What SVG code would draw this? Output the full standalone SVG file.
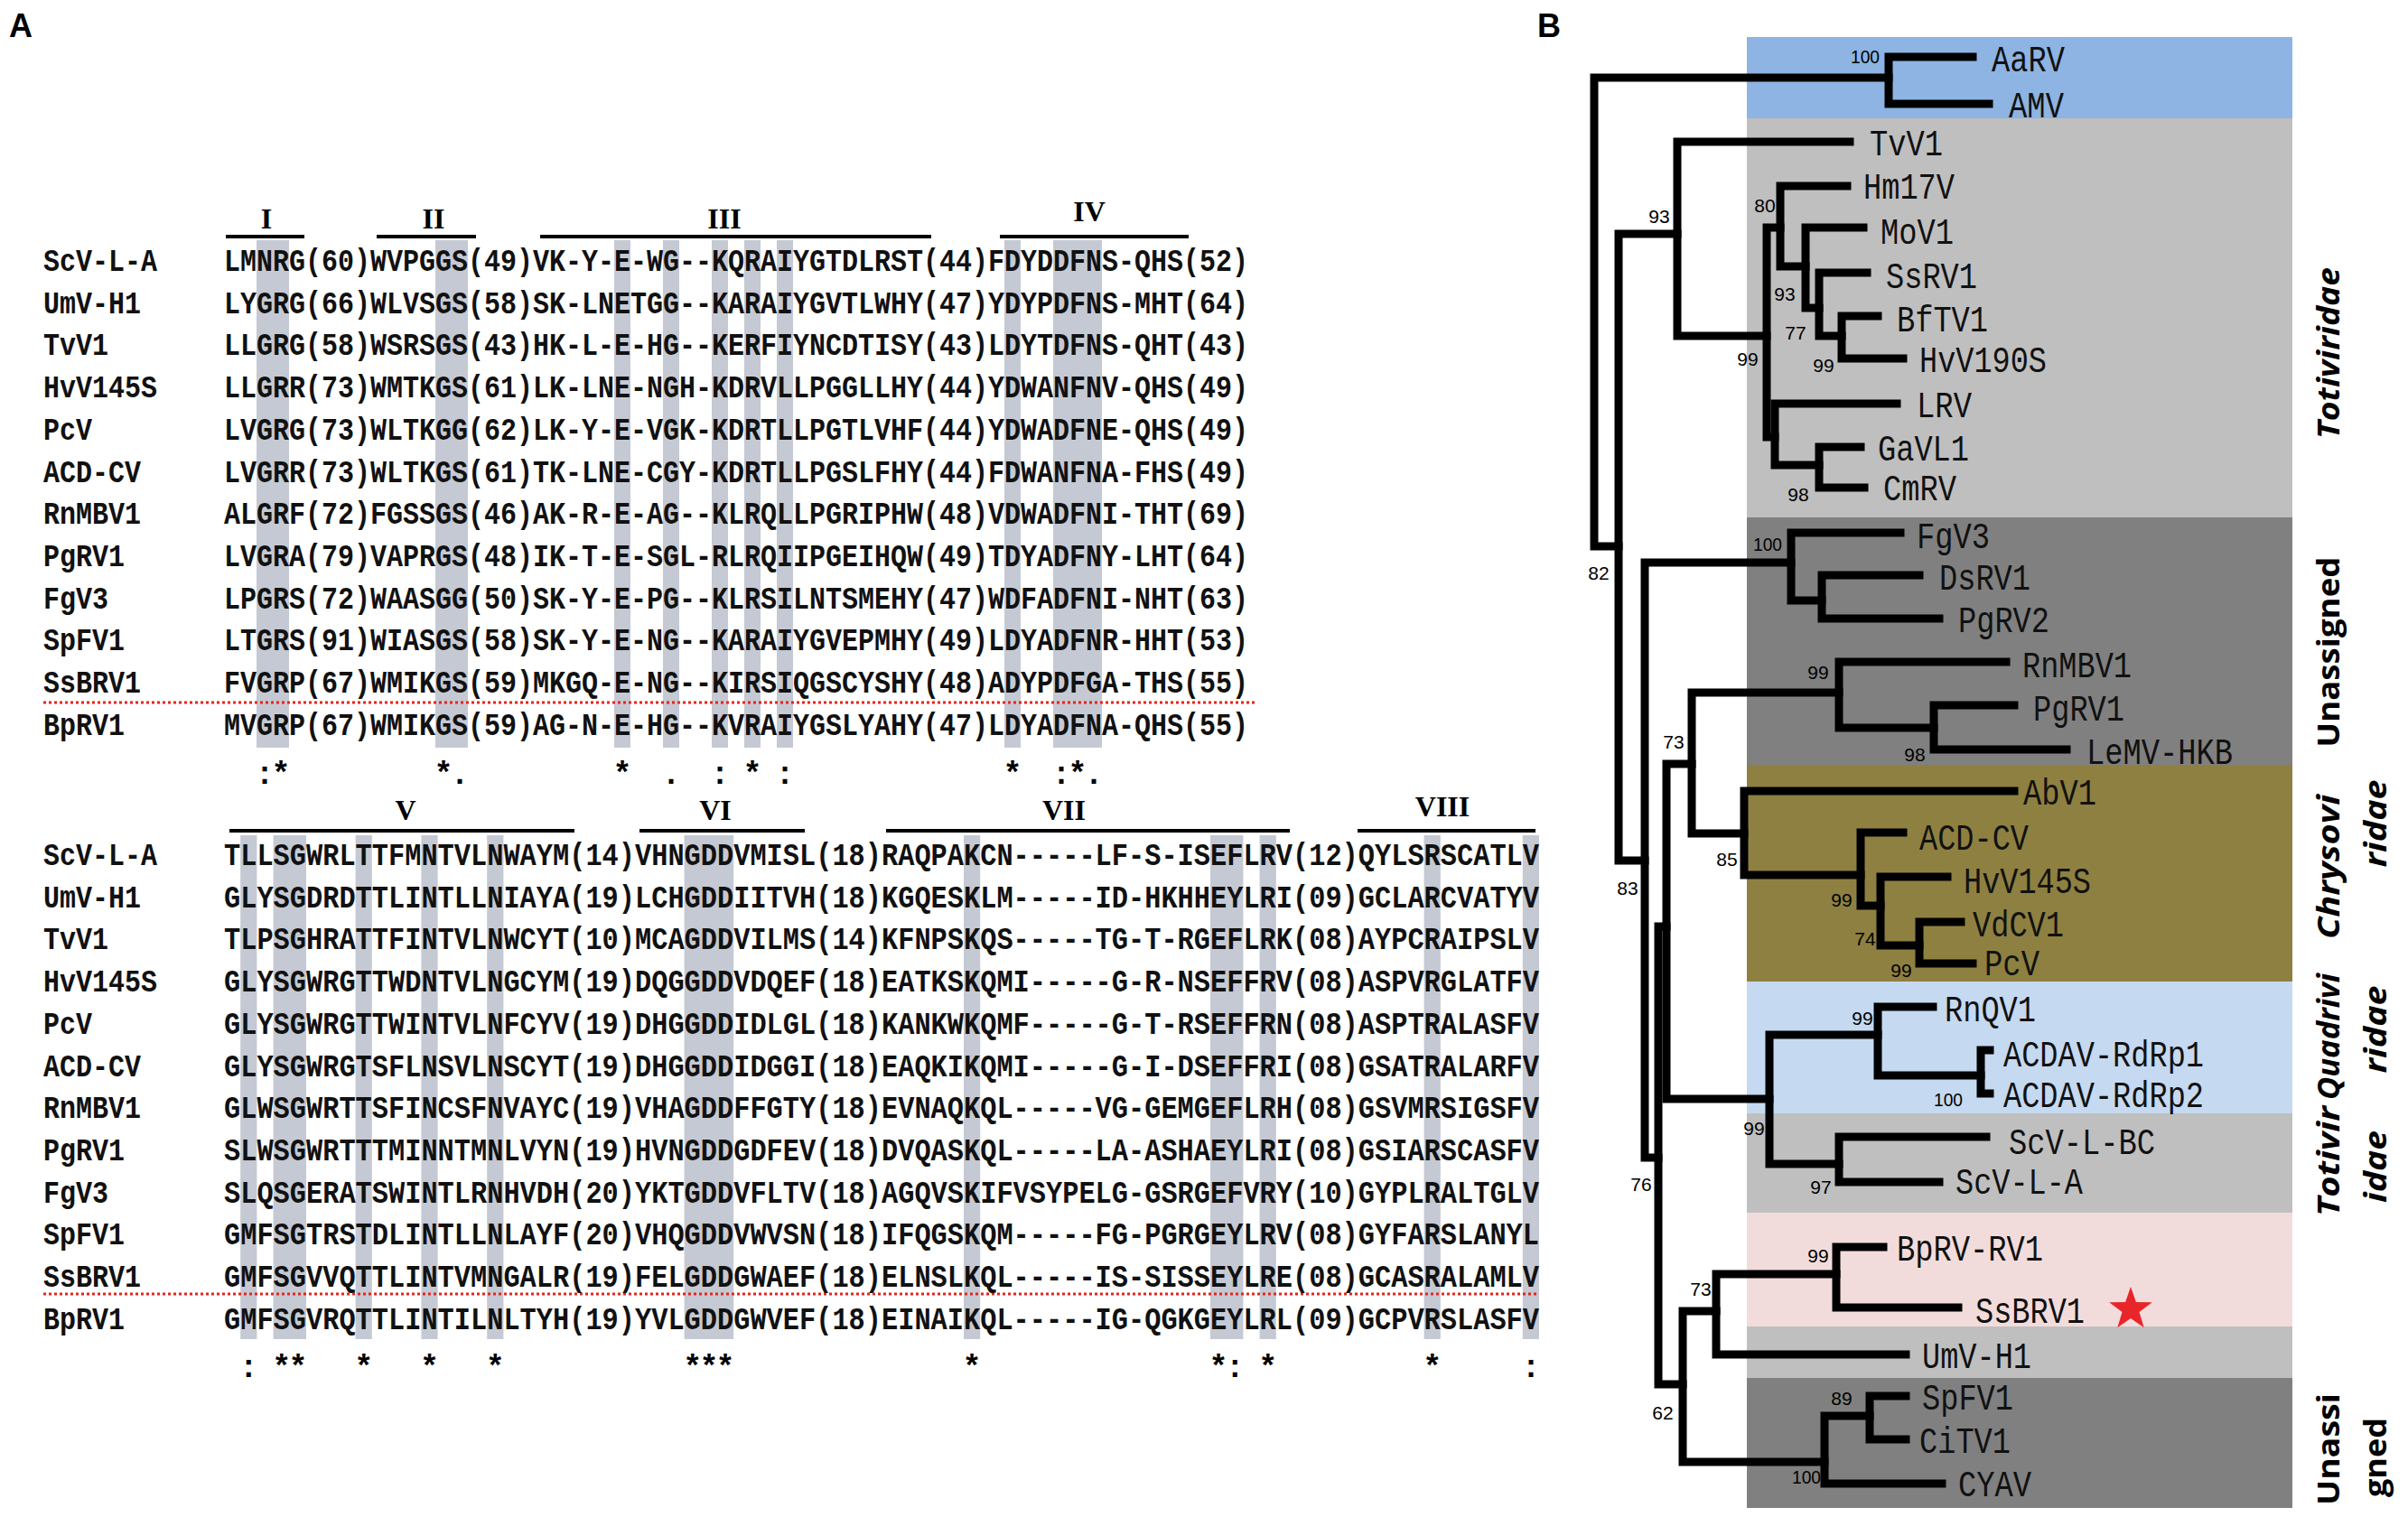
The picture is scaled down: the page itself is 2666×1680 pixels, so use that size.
<svg xmlns="http://www.w3.org/2000/svg" width="2666" height="1680" viewBox="0 0 2666 1680">
<style>
.pl{font-family:"Liberation Sans",Arial,sans-serif;font-weight:bold;font-size:36px}
.nm,.sq{font-family:"Liberation Mono","Courier New",monospace;font-size:35px;font-weight:bold;fill:#111}
.cs{font-family:"Liberation Mono","Courier New",monospace;font-size:35px;font-weight:bold;text-anchor:middle}
.rn{font-family:"Liberation Serif","Times New Roman",serif;font-size:32px;font-weight:bold;text-anchor:middle}
.bar{stroke:#000;stroke-width:4}
.shade{fill:#c5c9d3}
.dot{stroke:#e3261e;stroke-width:3;stroke-dasharray:3 3;fill:none}
.leaf{font-family:"Liberation Mono","Courier New",monospace;font-size:40px;fill:#111}
.bs{font-family:"Liberation Sans",Arial,sans-serif;font-size:21px;text-anchor:middle}
.br{fill:none;stroke:#000;stroke-width:9;stroke-linecap:square;stroke-linejoin:miter}
.grp{font-family:"Open Sans","Liberation Sans",sans-serif;font-size:34px;font-weight:bold;text-anchor:middle}
.it{font-style:italic}
</style>
<rect width="2666" height="1680" fill="#fff"/>
<text class="pl" x="10" y="41">A</text>
<text class="pl" x="1702" y="41">B</text>

<g id="alignment-block-1">
  <g id="shading-1">
    <rect class="shade" x="284" y="266" width="36" height="562"/>
    <rect class="shade" x="482" y="266" width="36" height="562"/>
    <rect class="shade" x="680" y="266" width="18" height="562"/>
    <rect class="shade" x="734" y="266" width="18" height="562"/>
    <rect class="shade" x="788" y="266" width="18" height="562"/>
    <rect class="shade" x="824" y="266" width="18" height="562"/>
    <rect class="shade" x="860" y="266" width="18" height="562"/>
    <rect class="shade" x="1112" y="266" width="18" height="562"/>
    <rect class="shade" x="1166" y="266" width="54" height="562"/>
  </g>
  <g id="motifs-1">
    <line class="bar" x1="250" y1="262" x2="337" y2="262"/>
    <line class="bar" x1="417" y1="262" x2="527" y2="262"/>
    <line class="bar" x1="598" y1="262" x2="1031" y2="262"/>
    <line class="bar" x1="1107" y1="262" x2="1316" y2="262"/>
    <text class="rn" x="295" y="253">I</text>
    <text class="rn" x="480" y="253">II</text>
    <text class="rn" x="802" y="253">III</text>
    <text class="rn" x="1206" y="245">IV</text>
  </g>
  <line class="dot" x1="48" y1="778" x2="1390" y2="778"/>
  <g id="names-1">
    <text class="nm" x="48" y="300" textLength="126" lengthAdjust="spacingAndGlyphs">ScV-L-A</text>
    <text class="nm" x="48" y="346.7" textLength="108" lengthAdjust="spacingAndGlyphs">UmV-H1</text>
    <text class="nm" x="48" y="393.4" textLength="72" lengthAdjust="spacingAndGlyphs">TvV1</text>
    <text class="nm" x="48" y="440.1" textLength="126" lengthAdjust="spacingAndGlyphs">HvV145S</text>
    <text class="nm" x="48" y="486.8" textLength="54" lengthAdjust="spacingAndGlyphs">PcV</text>
    <text class="nm" x="48" y="533.5" textLength="108" lengthAdjust="spacingAndGlyphs">ACD-CV</text>
    <text class="nm" x="48" y="580.2" textLength="108" lengthAdjust="spacingAndGlyphs">RnMBV1</text>
    <text class="nm" x="48" y="626.9" textLength="90" lengthAdjust="spacingAndGlyphs">PgRV1</text>
    <text class="nm" x="48" y="673.6" textLength="72" lengthAdjust="spacingAndGlyphs">FgV3</text>
    <text class="nm" x="48" y="720.3" textLength="90" lengthAdjust="spacingAndGlyphs">SpFV1</text>
    <text class="nm" x="48" y="767" textLength="108" lengthAdjust="spacingAndGlyphs">SsBRV1</text>
    <text class="nm" x="48" y="813.7" textLength="90" lengthAdjust="spacingAndGlyphs">BpRV1</text>
  </g>
  <g id="seqs-1">
    <text class="sq" x="248" y="300" textLength="1134" lengthAdjust="spacingAndGlyphs">LMNRG(60)WVPGGS(49)VK-Y-E-WG--KQRAIYGTDLRST(44)FDYDDFNS-QHS(52)</text>
    <text class="sq" x="248" y="346.7" textLength="1134" lengthAdjust="spacingAndGlyphs">LYGRG(66)WLVSGS(58)SK-LNETGG--KARAIYGVTLWHY(47)YDYPDFNS-MHT(64)</text>
    <text class="sq" x="248" y="393.4" textLength="1134" lengthAdjust="spacingAndGlyphs">LLGRG(58)WSRSGS(43)HK-L-E-HG--KERFIYNCDTISY(43)LDYTDFNS-QHT(43)</text>
    <text class="sq" x="248" y="440.1" textLength="1134" lengthAdjust="spacingAndGlyphs">LLGRR(73)WMTKGS(61)LK-LNE-NGH-KDRVLLPGGLLHY(44)YDWANFNV-QHS(49)</text>
    <text class="sq" x="248" y="486.8" textLength="1134" lengthAdjust="spacingAndGlyphs">LVGRG(73)WLTKGG(62)LK-Y-E-VGK-KDRTLLPGTLVHF(44)YDWADFNE-QHS(49)</text>
    <text class="sq" x="248" y="533.5" textLength="1134" lengthAdjust="spacingAndGlyphs">LVGRR(73)WLTKGS(61)TK-LNE-CGY-KDRTLLPGSLFHY(44)FDWANFNA-FHS(49)</text>
    <text class="sq" x="248" y="580.2" textLength="1134" lengthAdjust="spacingAndGlyphs">ALGRF(72)FGSSGS(46)AK-R-E-AG--KLRQLLPGRIPHW(48)VDWADFNI-THT(69)</text>
    <text class="sq" x="248" y="626.9" textLength="1134" lengthAdjust="spacingAndGlyphs">LVGRA(79)VAPRGS(48)IK-T-E-SGL-RLRQIIPGEIHQW(49)TDYADFNY-LHT(64)</text>
    <text class="sq" x="248" y="673.6" textLength="1134" lengthAdjust="spacingAndGlyphs">LPGRS(72)WAASGG(50)SK-Y-E-PG--KLRSILNTSMEHY(47)WDFADFNI-NHT(63)</text>
    <text class="sq" x="248" y="720.3" textLength="1134" lengthAdjust="spacingAndGlyphs">LTGRS(91)WIASGS(58)SK-Y-E-NG--KARAIYGVEPMHY(49)LDYADFNR-HHT(53)</text>
    <text class="sq" x="248" y="767" textLength="1134" lengthAdjust="spacingAndGlyphs">FVGRP(67)WMIKGS(59)MKGQ-E-NG--KIRSIQGSCYSHY(48)ADYPDFGA-THS(55)</text>
    <text class="sq" x="248" y="813.7" textLength="1134" lengthAdjust="spacingAndGlyphs">MVGRP(67)WMIKGS(59)AG-N-E-HG--KVRAIYGSLYAHY(47)LDYADFNA-QHS(55)</text>
  </g>
  <g id="conservation-1">
    <text class="cs" x="293" y="868">:</text><text class="cs" x="311" y="868">*</text>
    <text class="cs" x="491" y="868">*</text><text class="cs" x="509" y="868">.</text>
    <text class="cs" x="689" y="868">*</text><text class="cs" x="743" y="868">.</text>
    <text class="cs" x="797" y="868">:</text><text class="cs" x="833" y="868">*</text>
    <text class="cs" x="869" y="868">:</text><text class="cs" x="1121" y="868">*</text>
    <text class="cs" x="1175" y="868">:</text><text class="cs" x="1193" y="868">*</text><text class="cs" x="1211" y="868">.</text>
  </g>
</g>

<g id="alignment-block-2">
  <g id="shading-2">
    <rect class="shade" x="266.2" y="925" width="18.2" height="558"/>
    <rect class="shade" x="302.6" y="925" width="36.4" height="558"/>
    <rect class="shade" x="393.6" y="925" width="18.2" height="558"/>
    <rect class="shade" x="466.4" y="925" width="18.2" height="558"/>
    <rect class="shade" x="539.2" y="925" width="18.2" height="558"/>
    <rect class="shade" x="757.6" y="925" width="54.6" height="558"/>
    <rect class="shade" x="1067" y="925" width="18.2" height="558"/>
    <rect class="shade" x="1340" y="925" width="36.4" height="558"/>
    <rect class="shade" x="1394.6" y="925" width="18.2" height="558"/>
    <rect class="shade" x="1576.6" y="925" width="18.2" height="558"/>
    <rect class="shade" x="1685.8" y="925" width="18.2" height="558"/>
  </g>
  <g id="motifs-2">
    <line class="bar" x1="254" y1="920" x2="636" y2="920"/>
    <line class="bar" x1="708" y1="920" x2="891" y2="920"/>
    <line class="bar" x1="981" y1="920" x2="1428" y2="920"/>
    <line class="bar" x1="1503" y1="920" x2="1700" y2="920"/>
    <text class="rn" x="449" y="908">V</text>
    <text class="rn" x="792" y="908">VI</text>
    <text class="rn" x="1178" y="908">VII</text>
    <text class="rn" x="1597" y="904">VIII</text>
  </g>
  <line class="dot" x1="48" y1="1433" x2="1704" y2="1433"/>
  <g id="names-2">
    <text class="nm" x="48" y="958" textLength="126" lengthAdjust="spacingAndGlyphs">ScV-L-A</text>
    <text class="nm" x="48" y="1004.7" textLength="108" lengthAdjust="spacingAndGlyphs">UmV-H1</text>
    <text class="nm" x="48" y="1051.4" textLength="72" lengthAdjust="spacingAndGlyphs">TvV1</text>
    <text class="nm" x="48" y="1098.1" textLength="126" lengthAdjust="spacingAndGlyphs">HvV145S</text>
    <text class="nm" x="48" y="1144.8" textLength="54" lengthAdjust="spacingAndGlyphs">PcV</text>
    <text class="nm" x="48" y="1191.5" textLength="108" lengthAdjust="spacingAndGlyphs">ACD-CV</text>
    <text class="nm" x="48" y="1238.2" textLength="108" lengthAdjust="spacingAndGlyphs">RnMBV1</text>
    <text class="nm" x="48" y="1284.9" textLength="90" lengthAdjust="spacingAndGlyphs">PgRV1</text>
    <text class="nm" x="48" y="1331.6" textLength="72" lengthAdjust="spacingAndGlyphs">FgV3</text>
    <text class="nm" x="48" y="1378.3" textLength="90" lengthAdjust="spacingAndGlyphs">SpFV1</text>
    <text class="nm" x="48" y="1425" textLength="108" lengthAdjust="spacingAndGlyphs">SsBRV1</text>
    <text class="nm" x="48" y="1471.7" textLength="90" lengthAdjust="spacingAndGlyphs">BpRV1</text>
  </g>
  <g id="seqs-2">
    <text class="sq" x="248" y="958" textLength="1456" lengthAdjust="spacingAndGlyphs">TLLSGWRLTTFMNTVLNWAYM(14)VHNGDDVMISL(18)RAQPAKCN-----LF-S-ISEFLRV(12)QYLSRSCATLV</text>
    <text class="sq" x="248" y="1004.7" textLength="1456" lengthAdjust="spacingAndGlyphs">GLYSGDRDTTLINTLLNIAYA(19)LCHGDDIITVH(18)KGQESKLM-----ID-HKHHEYLRI(09)GCLARCVATYV</text>
    <text class="sq" x="248" y="1051.4" textLength="1456" lengthAdjust="spacingAndGlyphs">TLPSGHRATTFINTVLNWCYT(10)MCAGDDVILMS(14)KFNPSKQS-----TG-T-RGEFLRK(08)AYPCRAIPSLV</text>
    <text class="sq" x="248" y="1098.1" textLength="1456" lengthAdjust="spacingAndGlyphs">GLYSGWRGTTWDNTVLNGCYM(19)DQGGDDVDQEF(18)EATKSKQMI-----G-R-NSEFFRV(08)ASPVRGLATFV</text>
    <text class="sq" x="248" y="1144.8" textLength="1456" lengthAdjust="spacingAndGlyphs">GLYSGWRGTTWINTVLNFCYV(19)DHGGDDIDLGL(18)KANKWKQMF-----G-T-RSEFFRN(08)ASPTRALASFV</text>
    <text class="sq" x="248" y="1191.5" textLength="1456" lengthAdjust="spacingAndGlyphs">GLYSGWRGTSFLNSVLNSCYT(19)DHGGDDIDGGI(18)EAQKIKQMI-----G-I-DSEFFRI(08)GSATRALARFV</text>
    <text class="sq" x="248" y="1238.2" textLength="1456" lengthAdjust="spacingAndGlyphs">GLWSGWRTTSFINCSFNVAYC(19)VHAGDDFFGTY(18)EVNAQKQL-----VG-GEMGEFLRH(08)GSVMRSIGSFV</text>
    <text class="sq" x="248" y="1284.9" textLength="1456" lengthAdjust="spacingAndGlyphs">SLWSGWRTTTMINNTMNLVYN(19)HVNGDDGDFEV(18)DVQASKQL-----LA-ASHAEYLRI(08)GSIARSCASFV</text>
    <text class="sq" x="248" y="1331.6" textLength="1456" lengthAdjust="spacingAndGlyphs">SLQSGERATSWINTLRNHVDH(20)YKTGDDVFLTV(18)AGQVSKIFVSYPELG-GSRGEFVRY(10)GYPLRALTGLV</text>
    <text class="sq" x="248" y="1378.3" textLength="1456" lengthAdjust="spacingAndGlyphs">GMFSGTRSTDLINTLLNLAYF(20)VHQGDDVWVSN(18)IFQGSKQM-----FG-PGRGEYLRV(08)GYFARSLANYL</text>
    <text class="sq" x="248" y="1425" textLength="1456" lengthAdjust="spacingAndGlyphs">GMFSGVVQTTLINTVMNGALR(19)FELGDDGWAEF(18)ELNSLKQL-----IS-SISSEYLRE(08)GCASRALAMLV</text>
    <text class="sq" x="248" y="1471.7" textLength="1456" lengthAdjust="spacingAndGlyphs">GMFSGVRQTTLINTILNLTYH(19)YVLGDDGWVEF(18)EINAIKQL-----IG-QGKGEYLRL(09)GCPVRSLASFV</text>
  </g>
  <g id="conservation-2">
    <text class="cs" x="275.3" y="1525">:</text><text class="cs" x="311.7" y="1525">*</text><text class="cs" x="329.9" y="1525">*</text>
    <text class="cs" x="402.7" y="1525">*</text><text class="cs" x="475.5" y="1525">*</text><text class="cs" x="548.3" y="1525">*</text>
    <text class="cs" x="766.7" y="1525">*</text><text class="cs" x="784.9" y="1525">*</text><text class="cs" x="803.1" y="1525">*</text>
    <text class="cs" x="1076.1" y="1525">*</text>
    <text class="cs" x="1349.1" y="1525">*</text><text class="cs" x="1367.3" y="1525">:</text><text class="cs" x="1403.7" y="1525">*</text>
    <text class="cs" x="1585.7" y="1525">*</text><text class="cs" x="1694.9" y="1525">:</text>
  </g>
</g>

<g id="clade-bands">
  <rect x="1934" y="41" width="604" height="90" fill="#8db4e2"/>
  <rect x="1934" y="131" width="604" height="442" fill="#bfbfbf"/>
  <rect x="1934" y="573" width="604" height="274" fill="#808080"/>
  <rect x="1934" y="847" width="604" height="240" fill="#8e8040"/>
  <rect x="1934" y="1087" width="604" height="146" fill="#c5d9f1"/>
  <rect x="1934" y="1233" width="604" height="110" fill="#bfbfbf"/>
  <rect x="1934" y="1343" width="604" height="126" fill="#f2dcdb"/>
  <rect x="1934" y="1469" width="604" height="57" fill="#bfbfbf"/>
  <rect x="1934" y="1526" width="604" height="144" fill="#808080"/>
</g>

<g id="tree-connectors">
  <path class="br" d="M2091,86 H1765 V605 H1792"/>
  <path class="br" d="M2184,63 H2091 V115 H2202"/>
  <path class="br" d="M1857,259 H1792 V953 H1821"/>
  <path class="br" d="M2048,157 H1857 V372 H1956"/>
  <path class="br" d="M1971,252 H1956 V484 H1965"/>
  <path class="br" d="M2045,206 H1971 V295 H1999"/>
  <path class="br" d="M2063,252 H1999 V341 H2014"/>
  <path class="br" d="M2067,302 H2014 V372 H2039"/>
  <path class="br" d="M2079,350 H2039 V397 H2107"/>
  <path class="br" d="M2100,447 H1965 V515 H2014"/>
  <path class="br" d="M2060,495 H2014 V540 H2064"/>
  <path class="br" d="M1983,623 H1821 V1282 H1836"/>
  <path class="br" d="M2104,590 H1983 V665 H2017"/>
  <path class="br" d="M2125,637 H2017 V685 H2147"/>
  <path class="br" d="M1845,1026 H1836 V1533 H1863"/>
  <path class="br" d="M1873,846 H1845 V1217 H1959"/>
  <path class="br" d="M2036,767 H1873 V923 H1931"/>
  <path class="br" d="M2221,733 H2036 V806 H2141"/>
  <path class="br" d="M2230,781 H2141 V830 H2288"/>
  <path class="br" d="M2230,876 H1931 V969 H2060"/>
  <path class="br" d="M2107,922 H2060 V1003 H2082"/>
  <path class="br" d="M2156,971 H2082 V1047 H2125"/>
  <path class="br" d="M2171,1021 H2125 V1067 H2184"/>
  <path class="br" d="M2079,1146 H1959 V1289 H2036"/>
  <path class="br" d="M2140,1115 H2079 V1191 H2193"/>
  <path class="br" d="M2203,1163 H2193 V1211 H2203"/>
  <path class="br" d="M2199,1259 H2036 V1309 H2147"/>
  <path class="br" d="M1900,1452 H1863 V1619 H2020"/>
  <path class="br" d="M2033,1411 H1900 V1500 H2110"/>
  <path class="br" d="M2085,1381 H2033 V1448 H2168"/>
  <path class="br" d="M2070,1568 H2020 V1643 H2150"/>
  <path class="br" d="M2110,1546 H2070 V1594 H2110"/>
</g>

<g id="bootstrap">
  <text class="bs" x="2065" y="70" textLength="32" lengthAdjust="spacingAndGlyphs">100</text>
  <text class="bs" x="1837" y="247">93</text>
  <text class="bs" x="1954" y="235">80</text>
  <text class="bs" x="1976" y="333">93</text>
  <text class="bs" x="1988" y="376">77</text>
  <text class="bs" x="1935" y="405">99</text>
  <text class="bs" x="2019" y="412">99</text>
  <text class="bs" x="1991" y="555">98</text>
  <text class="bs" x="1770" y="642">82</text>
  <text class="bs" x="1957" y="610" textLength="32" lengthAdjust="spacingAndGlyphs">100</text>
  <text class="bs" x="2013" y="752">99</text>
  <text class="bs" x="2120" y="843">98</text>
  <text class="bs" x="1853" y="829">73</text>
  <text class="bs" x="1912" y="959">85</text>
  <text class="bs" x="2039" y="1004">99</text>
  <text class="bs" x="2065" y="1047">74</text>
  <text class="bs" x="2105" y="1082">99</text>
  <text class="bs" x="1802" y="991">83</text>
  <text class="bs" x="2062" y="1135">99</text>
  <text class="bs" x="2157" y="1225" textLength="32" lengthAdjust="spacingAndGlyphs">100</text>
  <text class="bs" x="1942" y="1257">99</text>
  <text class="bs" x="2016" y="1322">97</text>
  <text class="bs" x="1817" y="1319">76</text>
  <text class="bs" x="2013" y="1398">99</text>
  <text class="bs" x="1883" y="1435">73</text>
  <text class="bs" x="1841" y="1572">62</text>
  <text class="bs" x="2039" y="1556">89</text>
  <text class="bs" x="2000" y="1643" textLength="32" lengthAdjust="spacingAndGlyphs">100</text>
</g>

<g id="leaves">
  <text class="leaf" x="2205" y="79" textLength="81" lengthAdjust="spacingAndGlyphs">AaRV</text>
  <text class="leaf" x="2224" y="130" textLength="61" lengthAdjust="spacingAndGlyphs">AMV</text>
  <text class="leaf" x="2070" y="172" textLength="81" lengthAdjust="spacingAndGlyphs">TvV1</text>
  <text class="leaf" x="2063" y="220" textLength="101" lengthAdjust="spacingAndGlyphs">Hm17V</text>
  <text class="leaf" x="2082" y="270" textLength="81" lengthAdjust="spacingAndGlyphs">MoV1</text>
  <text class="leaf" x="2088" y="319" textLength="101" lengthAdjust="spacingAndGlyphs">SsRV1</text>
  <text class="leaf" x="2100" y="367" textLength="101" lengthAdjust="spacingAndGlyphs">BfTV1</text>
  <text class="leaf" x="2125" y="412" textLength="141" lengthAdjust="spacingAndGlyphs">HvV190S</text>
  <text class="leaf" x="2122" y="462" textLength="61" lengthAdjust="spacingAndGlyphs">LRV</text>
  <text class="leaf" x="2079" y="510" textLength="101" lengthAdjust="spacingAndGlyphs">GaVL1</text>
  <text class="leaf" x="2085" y="554" textLength="81" lengthAdjust="spacingAndGlyphs">CmRV</text>
  <text class="leaf" x="2122" y="607" textLength="81" lengthAdjust="spacingAndGlyphs">FgV3</text>
  <text class="leaf" x="2147" y="653" textLength="101" lengthAdjust="spacingAndGlyphs">DsRV1</text>
  <text class="leaf" x="2168" y="700" textLength="101" lengthAdjust="spacingAndGlyphs">PgRV2</text>
  <text class="leaf" x="2239" y="750" textLength="121" lengthAdjust="spacingAndGlyphs">RnMBV1</text>
  <text class="leaf" x="2251" y="798" textLength="101" lengthAdjust="spacingAndGlyphs">PgRV1</text>
  <text class="leaf" x="2310" y="846" textLength="162" lengthAdjust="spacingAndGlyphs">LeMV-HKB</text>
  <text class="leaf" x="2240" y="891" textLength="81" lengthAdjust="spacingAndGlyphs">AbV1</text>
  <text class="leaf" x="2125" y="941" textLength="121" lengthAdjust="spacingAndGlyphs">ACD-CV</text>
  <text class="leaf" x="2174" y="989" textLength="141" lengthAdjust="spacingAndGlyphs">HvV145S</text>
  <text class="leaf" x="2184" y="1037" textLength="101" lengthAdjust="spacingAndGlyphs">VdCV1</text>
  <text class="leaf" x="2197" y="1080" textLength="61" lengthAdjust="spacingAndGlyphs">PcV</text>
  <text class="leaf" x="2153" y="1131" textLength="101" lengthAdjust="spacingAndGlyphs">RnQV1</text>
  <text class="leaf" x="2218" y="1181" textLength="222" lengthAdjust="spacingAndGlyphs">ACDAV-RdRp1</text>
  <text class="leaf" x="2218" y="1226" textLength="222" lengthAdjust="spacingAndGlyphs">ACDAV-RdRp2</text>
  <text class="leaf" x="2224" y="1278" textLength="162" lengthAdjust="spacingAndGlyphs">ScV-L-BC</text>
  <text class="leaf" x="2165" y="1322" textLength="141" lengthAdjust="spacingAndGlyphs">ScV-L-A</text>
  <text class="leaf" x="2100" y="1396" textLength="162" lengthAdjust="spacingAndGlyphs">BpRV-RV1</text>
  <text class="leaf" x="2187" y="1465" textLength="121" lengthAdjust="spacingAndGlyphs">SsBRV1</text>
  <text class="leaf" x="2128" y="1515" textLength="121" lengthAdjust="spacingAndGlyphs">UmV-H1</text>
  <text class="leaf" x="2128" y="1561" textLength="101" lengthAdjust="spacingAndGlyphs">SpFV1</text>
  <text class="leaf" x="2125" y="1609" textLength="101" lengthAdjust="spacingAndGlyphs">CiTV1</text>
  <text class="leaf" x="2168" y="1657" textLength="81" lengthAdjust="spacingAndGlyphs">CYAV</text>
</g>

<polygon id="star" fill="#e8262a" points="2359,1425 2364.9,1441.9 2382.8,1442.3 2368.5,1453.1 2373.7,1470.2 2359,1460 2344.3,1470.2 2349.5,1453.1 2335.2,1442.3 2353.1,1441.9"/>

<g id="clade-labels">
  <text class="grp it" transform="translate(2590,391) rotate(-90)" textLength="190" lengthAdjust="spacingAndGlyphs">Totiviridae</text>
  <text class="grp" transform="translate(2590,722) rotate(-90)" textLength="211" lengthAdjust="spacingAndGlyphs">Unassigned</text>
  <text class="grp it" transform="translate(2590,960) rotate(-90)" textLength="160" lengthAdjust="spacingAndGlyphs">Chrysovi</text>
  <text class="grp it" transform="translate(2642,912) rotate(-90)" textLength="97" lengthAdjust="spacingAndGlyphs">ridae</text>
  <text class="grp it" transform="translate(2590,1148) rotate(-90)" textLength="140" lengthAdjust="spacingAndGlyphs">Quadrivi</text>
  <text class="grp it" transform="translate(2642,1140) rotate(-90)" textLength="97" lengthAdjust="spacingAndGlyphs">ridae</text>
  <text class="grp it" transform="translate(2590,1286) rotate(-90)" textLength="122" lengthAdjust="spacingAndGlyphs">Totivir</text>
  <text class="grp it" transform="translate(2642,1292) rotate(-90)" textLength="80" lengthAdjust="spacingAndGlyphs">idae</text>
  <text class="grp" transform="translate(2590,1605) rotate(-90)" textLength="124" lengthAdjust="spacingAndGlyphs">Unassi</text>
  <text class="grp" transform="translate(2642,1614) rotate(-90)" textLength="88" lengthAdjust="spacingAndGlyphs">gned</text>
</g>
</svg>
